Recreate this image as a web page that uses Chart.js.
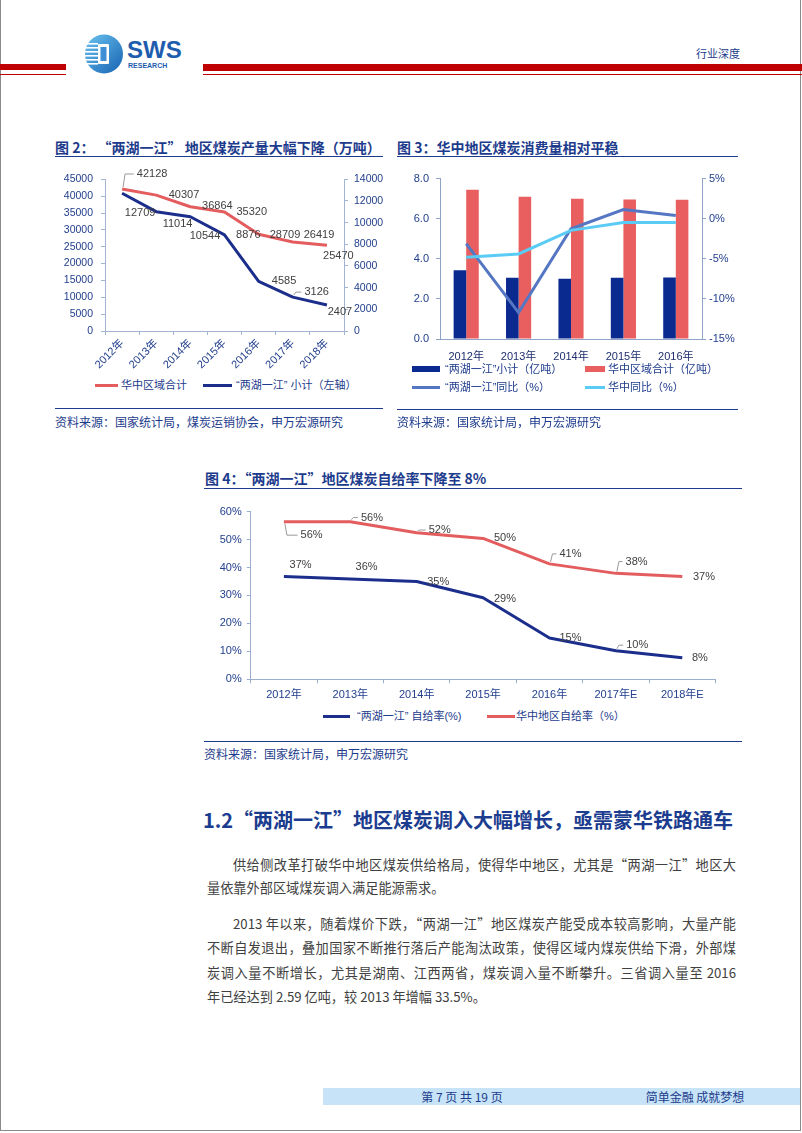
<!DOCTYPE html>
<html><head><meta charset="utf-8">
<script src="https://cdn.jsdelivr.net/npm/chart.js@4.4.0/dist/chart.umd.min.js"></script>
<style>
html,body{margin:0;padding:0;background:#fff;}
#page{position:relative;width:802px;height:1133px;overflow:hidden;font-family:'Noto Sans CJK SC',sans-serif;background:#fff;}
.abs{position:absolute;white-space:nowrap;}
.title{font-weight:bold;font-size:14px;color:#1D3B8C;line-height:20px;}
.rule{position:absolute;height:1.5px;background:#1D3B8C;}
.src{font-size:12px;color:#1D3B8C;line-height:16px;}
.leg{font-family:'Liberation Sans','Noto Sans CJK SC',sans-serif;font-size:11px;color:#1D3B8C;line-height:14px;}
.sw{position:absolute;}
canvas{position:absolute;}
.para{position:absolute;font-size:13.2px;color:#404040;line-height:20px;}
.just{text-align:justify;text-align-last:justify;}
</style></head>
<body>
<div id="page">
  <!-- frame -->
  <div style="position:absolute;left:0;top:0;width:799px;height:1130px;border:1px solid #8a8a8a;border-top:none;"></div>
  <!-- header -->
  <div class="sw" style="left:0;top:64px;width:66px;height:6px;background:#C00000"></div>
  <div class="sw" style="left:0;top:73.5px;width:66px;height:1.5px;background:#C00000"></div>
  <div class="sw" style="left:203px;top:64px;width:599px;height:6.5px;background:#C00000"></div>
  <div class="sw" style="left:203px;top:73.5px;width:599px;height:1.5px;background:#C00000"></div>
  <svg class="abs" style="left:83px;top:34px" width="42" height="40" viewBox="0 0 42 40">
    <defs><linearGradient id="lg" x1="0" y1="0" x2="1" y2="1"><stop offset="0" stop-color="#6CC3F0"/><stop offset="1" stop-color="#1562B2"/></linearGradient></defs>
    <ellipse cx="21" cy="20" rx="19" ry="19.5" fill="url(#lg)"/>
    <rect x="2" y="9" width="13" height="1.6" fill="#fff"/>
    <rect x="1" y="13" width="14" height="1.6" fill="#fff"/>
    <rect x="0.5" y="17" width="14.5" height="1.6" fill="#fff"/>
    <rect x="0.5" y="21" width="14.5" height="1.6" fill="#fff"/>
    <rect x="1" y="25" width="14" height="1.6" fill="#fff"/>
    <rect x="2" y="29" width="13" height="1.6" fill="#fff"/>
    <rect x="15" y="10" width="11" height="20" rx="1" fill="#fff"/>
    <rect x="17.5" y="13" width="6" height="14" fill="#3F8FD6"/>
  </svg>
  <div class="abs" style="left:127px;top:36px;font-family:'Liberation Sans',sans-serif;font-weight:bold;font-size:24px;line-height:28px;color:#1E5DAE;">SWS</div>
  <div class="abs" style="left:128px;top:62px;font-family:'Liberation Sans',sans-serif;font-weight:bold;font-size:7px;line-height:8px;color:#1E5DAE;">RESEARCH</div>
  <div class="abs" style="left:696px;top:45px;font-size:11px;line-height:16px;color:#1D3B8C;">行业深度</div>

  <!-- chart 2 -->
  <div class="abs title" style="left:55px;top:137px;">图 2： “两湖一江” 地区煤炭产量大幅下降（万吨）</div>
  <div class="rule" style="left:55px;top:155.5px;width:328px;"></div>
  <canvas id="c2" width="340" height="210" style="left:50px;top:165px;"></canvas>
  <div class="sw" style="left:95px;top:383.5px;width:23px;height:3px;background:#E35D5F"></div>
  <div class="abs leg" style="left:121px;top:378px;">华中区域合计</div>
  <div class="sw" style="left:203px;top:383.5px;width:29px;height:3px;background:#1C2E8C"></div>
  <div class="abs leg" style="left:236px;top:378px;">“两湖一江” 小计（左轴）</div>
  <div class="rule" style="left:55px;top:407.5px;width:328px;"></div>
  <div class="abs src" style="left:55px;top:414px;">资料来源：国家统计局，煤炭运销协会，申万宏源研究</div>

  <!-- chart 3 -->
  <div class="abs title" style="left:397px;top:137px;">图 3：华中地区煤炭消费量相对平稳</div>
  <div class="rule" style="left:397px;top:155.5px;width:341px;"></div>
  <canvas id="c3" width="360" height="200" style="left:390px;top:165px;"></canvas>
  <div class="sw" style="left:412px;top:366px;width:28px;height:6px;background:#0B2A8F"></div>
  <div class="abs leg" style="left:445px;top:362px;">“两湖一江”小计（亿吨）</div>
  <div class="sw" style="left:585px;top:366px;width:20px;height:6px;background:#E95F5F"></div>
  <div class="abs leg" style="left:608px;top:362px;">华中区域合计（亿吨）</div>
  <div class="sw" style="left:412px;top:385.5px;width:28px;height:3px;background:#5577C3"></div>
  <div class="abs leg" style="left:445px;top:380px;">“两湖一江”同比（%）</div>
  <div class="sw" style="left:585px;top:385.5px;width:20px;height:3px;background:#5ACBF4"></div>
  <div class="abs leg" style="left:608px;top:380px;">华中同比（%）</div>
  <div class="rule" style="left:397px;top:408.5px;width:341px;"></div>
  <div class="abs src" style="left:397px;top:414px;">资料来源：国家统计局，申万宏源研究</div>

  <!-- chart 4 -->
  <div class="abs title" style="left:205px;top:468px;">图 4：“两湖一江”地区煤炭自给率下降至 8%</div>
  <div class="rule" style="left:204px;top:487.5px;width:538px;"></div>
  <canvas id="c4" width="560" height="206" style="left:200px;top:500px;"></canvas>
  <div class="sw" style="left:323px;top:714.5px;width:27px;height:3px;background:#1C2E8C"></div>
  <div class="abs leg" style="left:357px;top:709px;">“两湖一江” 自给率(%)</div>
  <div class="sw" style="left:487px;top:714.5px;width:28px;height:3px;background:#E35D5F"></div>
  <div class="abs leg" style="left:516px;top:709px;">华中地区自给率（%）</div>
  <div class="rule" style="left:204px;top:740.5px;width:538px;"></div>
  <div class="abs src" style="left:204px;top:746px;">资料来源：国家统计局，申万宏源研究</div>

  <!-- body text -->
  <div class="abs" style="left:203px;top:806px;font-size:20px;line-height:28px;font-weight:bold;color:#1B3C8F;">1.2“两湖一江”地区煤炭调入大幅增长，亟需蒙华铁路通车</div>
  <div class="para just" style="left:233px;top:855px;width:503px;">供给侧改革打破华中地区煤炭供给格局，使得华中地区，尤其是“两湖一江”地区大</div>
  <div class="para" style="left:207px;top:878px;white-space:nowrap;">量依靠外部区域煤炭调入满足能源需求。</div>
  <div class="para just" style="left:233px;top:914px;width:503px;">2013 年以来，随着煤价下跌，“两湖一江”地区煤炭产能受成本较高影响，大量产能</div>
  <div class="para just" style="left:207px;top:938px;width:529px;">不断自发退出，叠加国家不断推行落后产能淘汰政策，使得区域内煤炭供给下滑，外部煤</div>
  <div class="para just" style="left:207px;top:963px;width:529px;">炭调入量不断增长，尤其是湖南、江西两省，煤炭调入量不断攀升。三省调入量至 2016</div>
  <div class="para" style="left:207px;top:987px;white-space:nowrap;">年已经达到 2.59 亿吨，较 2013 年增幅 33.5%。</div>

  <!-- footer -->
  <div class="sw" style="left:323px;top:1088px;width:477px;height:17px;background:#C6E3F7"></div>
  <div class="abs" style="left:412px;top:1088px;width:100px;text-align:center;font-size:12px;line-height:17px;color:#1D3B8C;">第 7 页 共 19 页</div>
  <div class="abs" style="left:640px;top:1088px;width:110px;text-align:center;font-size:12px;line-height:17px;color:#1D3B8C;">简单金融 成就梦想</div>
</div>

<script>
// ---------- data ----------
const years2 = ['2012年','2013年','2014年','2015年','2016年','2017年','2018年'];
const centralOutput = [42128, 40307, 36864, 35320, 28709, 26419, 25470];
const lhyjOutput = [12709, 11014, 10544, 8876, 4585, 3126, 2407];

const years3 = ['2012年','2013年','2014年','2015年','2016年'];
const lhyjConsumption = [3.43, 3.05, 3.00, 3.05, 3.07];
const centralConsumption = [7.44, 7.10, 7.00, 6.96, 6.94];
const lhyjYoY = [-3.1, -11.7, -1.25, 1.15, 0.4];
const centralYoY = [-4.8, -4.4, -1.45, -0.47, -0.47];

const years4 = ['2012年','2013年','2014年','2015年','2016年','2017年E','2018年E'];
const lhyjSelfRate = [36.8, 35.9, 35.0, 29.2, 14.8, 10.2, 7.7];
const centralSelfRate = [56.4, 56.4, 52.4, 50.4, 41.3, 37.9, 36.8];

// label placement (dx, dy from point, leader flag)
const offCentral2 = [[30,-15,1],[27.8,0],[27,-0.7],[27.2,0],[26.4,0.6],[26.2,-7],[11.4,11]];
const offLhyj2 = [[18,20],[21.3,12],[14.6,19],[23.8,0],[25.4,0],[23.9,-5,1],[13,7]];
const offCentral4 = [[27.7,13.5,1],[21.6,-4.1,1],[23,-2.8,1],[21.8,0],[21,-10,1],[20.7,-11.8,1],[21.6,0.8]];
const offLhyj4 = [[16.7,-11],[16.3,-12.4],[21.5,0],[21.8,1],[21,0],[21.3,-5.6,1],[17.6,0]];

// ---------- helpers ----------
const LATIN = "'Liberation Sans','Noto Sans CJK SC',sans-serif";
const TICK_COLOR = '#23408E';
const RED = '#E35D5F', NAVY = '#1C2E8C';

function labelPlugin(sets) {
  return {
    id: 'pointLabels',
    afterDatasetsDraw(chart) {
      const ctx = chart.ctx;
      ctx.save();
      ctx.font = '11px ' + LATIN;
      ctx.fillStyle = '#404040';
      ctx.textAlign = 'center';
      ctx.textBaseline = 'middle';
      sets.forEach(set => {
        const meta = chart.getDatasetMeta(set.dataset);
        const values = chart.data.datasets[set.dataset].data;
        meta.data.forEach((pt, i) => {
          const o = set.offsets[i];
          const text = set.format(values[i]);
          const tx = pt.x + o[0], ty = pt.y + o[1];
          ctx.fillText(text, tx, ty);
          if (o[2]) {
            const w = ctx.measureText(text).width;
            const sgn = o[1] >= 0 ? 1 : -1;
            ctx.beginPath();
            ctx.strokeStyle = '#9a9a9a';
            ctx.lineWidth = 1;
            ctx.moveTo(pt.x + 1, pt.y + sgn * 2);
            ctx.lineTo(pt.x + 3, ty);
            ctx.lineTo(tx - w / 2 - 3, ty);
            ctx.stroke();
          }
        });
      });
      ctx.restore();
    }
  };
}

Chart.defaults.font.family = LATIN;

// ---------- chart 2 ----------
const axis2 = '#A3B4D4';
new Chart(document.getElementById('c2'), {
  type: 'line',
  data: {
    labels: years2,
    datasets: [
      { label: '华中区域合计', data: centralOutput, yAxisID: 'y', borderColor: RED, borderWidth: 3, pointRadius: 0, borderJoinStyle: 'round', fill: false },
      { label: '“两湖一江” 小计（左轴）', data: lhyjOutput, yAxisID: 'y1', borderColor: NAVY, borderWidth: 3, pointRadius: 0, borderJoinStyle: 'round', fill: false }
    ]
  },
  options: {
    responsive: false, animation: false,
    layout: { padding: { top: 13, left: 0, right: 0, bottom: 0 } },
    plugins: { legend: { display: false }, tooltip: { enabled: false } },
    scales: {
      x: {
        offset: true,
        grid: { offset: true, drawOnChartArea: false, tickLength: 4, color: axis2 },
        border: { color: axis2 },
        ticks: { autoSkip: false, minRotation: 45, maxRotation: 45, color: TICK_COLOR, font: { size: 11 }, padding: 2 },
        afterFit: s => { s.height = 44; }
      },
      y: {
        min: 0, max: 45000,
        grid: { drawOnChartArea: false, tickLength: 4, color: axis2 },
        border: { color: axis2 },
        ticks: { stepSize: 5000, color: TICK_COLOR, font: { size: 10.5 }, padding: 8, callback: v => String(v) },
        afterFit: s => { s.width = 55; }
      },
      y1: {
        position: 'right', min: 0, max: 14000,
        grid: { drawOnChartArea: false, tickLength: 4, color: axis2 },
        border: { color: axis2 },
        ticks: { stepSize: 2000, color: TICK_COLOR, font: { size: 10.5 }, padding: 6, callback: v => String(v) },
        afterFit: s => { s.width = 46; }
      }
    }
  },
  plugins: [labelPlugin([
    { dataset: 0, offsets: offCentral2, format: v => String(v) },
    { dataset: 1, offsets: offLhyj2, format: v => String(v) }
  ])]
});

// ---------- chart 3 ----------
const axis3 = '#8FA3C9';
new Chart(document.getElementById('c3'), {
  type: 'bar',
  data: {
    labels: years3,
    datasets: [
      { type: 'line', label: '华中同比（%）', data: centralYoY, yAxisID: 'y1', borderColor: '#5ACBF4', borderWidth: 3, pointRadius: 0, order: 0 },
      { type: 'line', label: '“两湖一江”同比（%）', data: lhyjYoY, yAxisID: 'y1', borderColor: '#5577C3', borderWidth: 3, pointRadius: 0, order: 1 },
      { label: '“两湖一江”小计（亿吨）', data: lhyjConsumption, yAxisID: 'y', backgroundColor: '#0B2A8F', categoryPercentage: 0.48, barPercentage: 1, order: 2 },
      { label: '华中区域合计（亿吨）', data: centralConsumption, yAxisID: 'y', backgroundColor: '#E95F5F', categoryPercentage: 0.48, barPercentage: 1, order: 3 }
    ]
  },
  options: {
    responsive: false, animation: false,
    layout: { padding: { top: 13, left: 0, right: 0, bottom: 0 } },
    plugins: { legend: { display: false }, tooltip: { enabled: false } },
    scales: {
      x: {
        stacked: false,
        grid: { display: true, drawOnChartArea: false, drawTicks: false, color: axis3 },
        border: { color: axis3 },
        ticks: { color: '#1E2E6E', font: { size: 11 }, padding: 11 },
        afterFit: s => { s.height = 26; }
      },
      y: {
        min: 0, max: 8,
        grid: { drawOnChartArea: false, tickLength: 4, color: axis3 },
        border: { color: axis3 },
        ticks: { stepSize: 2, color: TICK_COLOR, font: { size: 11 }, padding: 7, callback: v => Number(v).toFixed(1) },
        afterFit: s => { s.width = 50; }
      },
      y1: {
        position: 'right', min: -15, max: 5,
        grid: { drawOnChartArea: false, tickLength: 4, color: axis3 },
        border: { color: axis3 },
        ticks: { stepSize: 5, color: TICK_COLOR, font: { size: 11 }, padding: 3, callback: v => v + '%' },
        afterFit: s => { s.width = 48; }
      }
    }
  }
});

// ---------- chart 4 ----------
const axis4 = '#9AAED0';
new Chart(document.getElementById('c4'), {
  type: 'line',
  data: {
    labels: years4,
    datasets: [
      { label: '“两湖一江” 自给率(%)', data: lhyjSelfRate, borderColor: NAVY, borderWidth: 3, pointRadius: 0, borderJoinStyle: 'round' },
      { label: '华中地区自给率（%）', data: centralSelfRate, borderColor: RED, borderWidth: 3, pointRadius: 0, borderJoinStyle: 'round' }
    ]
  },
  options: {
    responsive: false, animation: false,
    layout: { padding: { top: 10.7, left: 0, right: 44.5, bottom: 0 } },
    plugins: { legend: { display: false }, tooltip: { enabled: false } },
    scales: {
      x: {
        offset: true,
        grid: { offset: true, drawOnChartArea: false, tickLength: 4, color: axis4 },
        border: { color: axis4 },
        ticks: { color: TICK_COLOR, font: { size: 11 }, padding: 5 },
        afterFit: s => { s.height = 26.7; }
      },
      y: {
        min: 0, max: 60,
        grid: { drawOnChartArea: false, tickLength: 4, color: axis4 },
        border: { color: axis4 },
        ticks: { stepSize: 10, color: TICK_COLOR, font: { size: 11 }, padding: 5, callback: v => v + '%' },
        afterFit: s => { s.width = 50.7; }
      }
    }
  },
  plugins: [labelPlugin([
    { dataset: 0, offsets: offLhyj4, format: v => Math.round(v) + '%' },
    { dataset: 1, offsets: offCentral4, format: v => Math.round(v) + '%' }
  ])]
});
</script>
</body></html>
